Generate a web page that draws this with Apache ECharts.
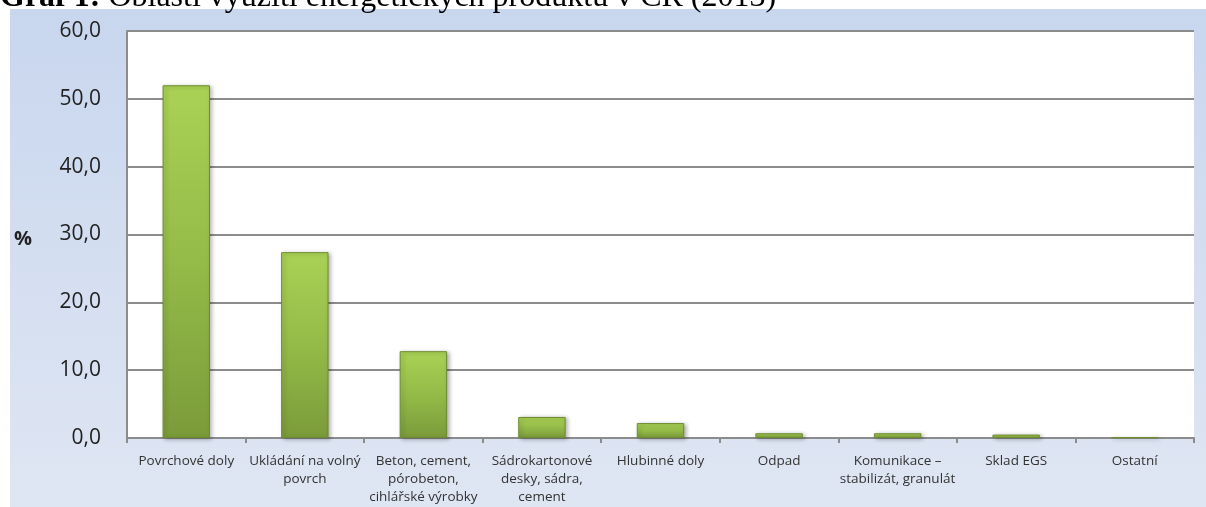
<!DOCTYPE html>
<html>
<head>
<meta charset="utf-8">
<script src="https://cdn.jsdelivr.net/npm/echarts@6/dist/echarts.min.js"></script>
<style>
html, body { margin: 0; padding: 0; background: #fff; }
#chart { width: 1206px; height: 507px; }
</style>
</head>
<body>
<div id="chart"></div>
<script>
// data
var categories = [
	'Povrchové doly',
	'Ukládání na volný\npovrch',
	'Beton, cement,\npórobeton,\ncihlářské výrobky',
	'Sádrokartonové\ndesky, sádra,\ncement',
	'Hlubinné doly',
	'Odpad',
	'Komunikace –\nstabilizát, granulát',
	'Sklad EGS',
	'Ostatní'
];
var shares = [52.0, 27.4, 12.8, 3.1, 2.2, 0.7, 0.7, 0.5, 0.1];
var yTicks = [0, 10, 20, 30, 40, 50, 60];

var myChart = echarts.init(document.getElementById('chart'));

var barFill = new echarts.graphic.LinearGradient(0, 0, 0, 1, [
	{offset: 0, color: '#a9d255'},
	{offset: 0.5, color: '#94bb48'},
	{offset: 1, color: '#7b9b3a'}
]);

var option = {
	animation: false,
	backgroundColor: '#fff',
	graphic: [
		{
			type: 'rect',
			z: -10,
			shape: {x: 10, y: 9, width: 1196, height: 498},
			style: {
				fill: new echarts.graphic.LinearGradient(0, 0, 0, 1, [
					{offset: 0, color: '#c8d6ee'},
					{offset: 1, color: '#dfe6f3'}
				])
			}
		},
		{
			type: 'text',
			left: 0,
			top: -18,
			z: -5,
			style: {
				text: '{b|Graf 1:} Oblasti využití energetických produktů v ČR (2013)',
				font: '32px "Liberation Serif"',
				fill: '#000',
				rich: {
					b: {font: 'bold 32px "Liberation Serif"', fill: '#000'}
				}
			}
		},
		{
			type: 'text',
			left: 14,
			top: 229,
			style: {
				text: '%',
				font: 'bold 20px "Open Sans"',
				fill: '#222'
			}
		}
	],
	grid: {
		left: 127,
		right: 12,
		top: 31,
		bottom: 69,
		show: true,
		backgroundColor: '#fff',
		borderWidth: 0
	},
	xAxis: {
		type: 'category',
		data: categories,
		axisLine: {lineStyle: {color: '#8c8c8c', width: 2}},
		axisTick: {show: true, length: 5, lineStyle: {color: '#8c8c8c', width: 2}},
		axisLabel: {
			interval: 0,
			margin: 14,
			fontFamily: 'Open Sans',
			fontSize: 13.5,
			lineHeight: 18,
			color: '#333'
		}
	},
	yAxis: {
		type: 'value',
		min: 0,
		max: 60,
		interval: 10,
		axisLine: {show: true, lineStyle: {color: '#8c8c8c', width: 2}},
		axisTick: {show: false},
		splitLine: {lineStyle: {color: '#8c8c8c', width: 2}},
		axisLabel: {
			margin: 26,
			fontFamily: 'Open Sans',
			fontSize: 21,
			color: '#222',
			formatter: function(v) {
				if (yTicks.indexOf(v) < 0) return '';
				return v.toFixed(1).replace('.', ',');
			}
		}
	},
	series: [
		{
			type: 'bar',
			data: shares,
			barWidth: '40%',
			itemStyle: {
				color: barFill,
				borderColor: '#6d8c2e',
				borderWidth: 1,
				shadowColor: 'rgba(0,0,0,0.3)',
				shadowBlur: 4,
				shadowOffsetX: 2,
				shadowOffsetY: 1
			}
		}
	]
};

myChart.setOption(option, true);
</script>
</body>
</html>
